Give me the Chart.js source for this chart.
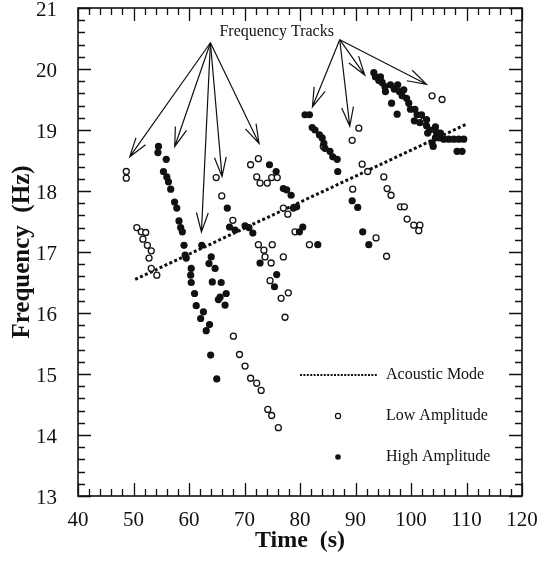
<!DOCTYPE html>
<html>
<head>
<meta charset="utf-8">
<script src="https://cdn.jsdelivr.net/npm/chart.js@4/dist/chart.umd.min.js"></script>
<style>
  html, body { margin: 0; padding: 0; background: #fff; }
  #wrap { width: 543px; height: 564px; }
</style>
</head>
<body>
<div id="wrap"><canvas id="c" width="543" height="564"></canvas></div>
<script>
// Axis ticks
const timeTicks = [40, 50, 60, 70, 80, 90, 100, 110, 120];
const freqTicks = [13, 14, 15, 16, 17, 18, 19, 20, 21];

// Acoustic mode (dotted line), [time s, frequency Hz]
const acousticMode = [[50.3, 16.55], [110.1, 19.10]];

// Low amplitude returns (open circles), [time s, frequency Hz]
const lowAmplitude = [
  [48.7, 18.32], [48.7, 18.21],
  [50.6, 17.40], [51.4, 17.33], [52.2, 17.32], [51.7, 17.21], [52.5, 17.11],
  [53.2, 17.02], [52.8, 16.90], [53.2, 16.73], [54.2, 16.62],
  [64.9, 18.22], [65.9, 17.92], [67.9, 17.52],
  [68.0, 15.62], [69.1, 15.32], [70.1, 15.13], [71.1, 14.93], [72.2, 14.85],
  [73.0, 14.73], [74.2, 14.42], [74.9, 14.32], [76.1, 14.12],
  [71.1, 18.43], [72.5, 18.53], [72.2, 18.23], [72.8, 18.13], [74.1, 18.13],
  [74.9, 18.22], [75.9, 18.22],
  [77.0, 17.72], [77.8, 17.62], [79.1, 17.33], [81.7, 17.12], [72.5, 17.12],
  [75.0, 17.12], [73.5, 17.03], [73.7, 16.92], [74.8, 16.82], [77.0, 16.92],
  [74.6, 16.53], [77.9, 16.33], [76.6, 16.24], [77.3, 15.93],
  [84.2, 18.73], [89.4, 18.83], [90.6, 19.03], [91.2, 18.44], [92.2, 18.32],
  [89.5, 18.03], [95.1, 18.23], [95.7, 18.04], [96.4, 17.93], [98.1, 17.74],
  [98.8, 17.74], [99.3, 17.54], [100.5, 17.44], [101.6, 17.44], [101.4, 17.35],
  [93.7, 17.23], [95.6, 16.93],
  [102.3, 19.15], [103.8, 19.56], [105.6, 19.50]
];

// High amplitude returns (filled circles), [time s, frequency Hz]
const highAmplitude = [
  [54.5, 18.73], [54.4, 18.63], [55.9, 18.52], [55.4, 18.32], [56.0, 18.23],
  [56.3, 18.15], [56.7, 18.03], [57.4, 17.82], [57.8, 17.72], [58.2, 17.51],
  [58.5, 17.40], [58.8, 17.33], [59.1, 17.11], [59.3, 16.95], [59.5, 16.90],
  [60.4, 16.73], [60.3, 16.62], [60.4, 16.50], [61.0, 16.32], [61.3, 16.12],
  [62.6, 16.02], [62.1, 15.91], [63.7, 15.81], [63.1, 15.71], [63.9, 15.31],
  [65.0, 14.92],
  [62.3, 17.11], [64.0, 16.92], [63.6, 16.81], [64.7, 16.73], [64.2, 16.51],
  [65.8, 16.50], [66.7, 16.32], [65.6, 16.26], [65.3, 16.22], [66.5, 16.13],
  [66.9, 17.72], [67.3, 17.41], [68.3, 17.36], [70.1, 17.43], [70.8, 17.40],
  [71.5, 17.31],
  [74.5, 18.43], [75.7, 18.32], [77.0, 18.04], [77.6, 18.02], [78.4, 17.93],
  [79.4, 17.74], [78.8, 17.72], [79.9, 17.33], [80.5, 17.41], [83.2, 17.12],
  [72.8, 16.82], [75.8, 16.63], [75.4, 16.43],
  [80.9, 19.25], [81.7, 19.25], [82.2, 19.04], [82.7, 19.00], [83.5, 18.92],
  [84.0, 18.87], [84.3, 18.78], [84.5, 18.70], [85.4, 18.65], [85.9, 18.56],
  [86.7, 18.52], [86.8, 18.32], [89.4, 17.84], [90.4, 17.73], [91.3, 17.33],
  [92.4, 17.12],
  [93.3, 19.94], [93.6, 19.87], [94.5, 19.87], [94.2, 19.81], [94.8, 19.78],
  [95.3, 19.71], [95.4, 19.63], [96.3, 19.74], [97.0, 19.67], [97.6, 19.74],
  [97.9, 19.63], [98.4, 19.56], [98.7, 19.66], [99.2, 19.52], [99.6, 19.44],
  [99.9, 19.34], [100.7, 19.34], [101.1, 19.25], [101.9, 19.25], [100.6, 19.15],
  [101.6, 19.12], [102.8, 19.17], [102.8, 19.07], [103.4, 19.00], [104.4, 19.05],
  [104.6, 18.96], [103.0, 18.95], [105.3, 18.95], [104.4, 18.87], [105.2, 18.87],
  [105.9, 18.85], [106.8, 18.85], [107.7, 18.85], [108.6, 18.85], [109.5, 18.85],
  [108.3, 18.65], [109.2, 18.65], [104.0, 18.73], [103.8, 18.79], [96.5, 19.44],
  [97.5, 19.26]
];

// "Frequency Tracks" callout: label anchor and arrows, in axis units
const calloutLabel = { text: 'Frequency Tracks', at: [75.8, 20.61] };
const calloutArrows = [
  { from: [63.86, 20.43], to: [49.32, 18.56] },
  { from: [63.86, 20.43], to: [57.43, 18.73] },
  { from: [63.86, 20.43], to: [62.24, 17.33] },
  { from: [63.86, 20.43], to: [65.95, 18.24] },
  { from: [63.86, 20.43], to: [72.62, 18.78] },
  { from: [87.16, 20.48], to: [82.24, 19.38] },
  { from: [87.16, 20.48], to: [88.97, 19.06] },
  { from: [87.16, 20.48], to: [91.67, 19.90] },
  { from: [87.16, 20.48], to: [102.79, 19.75] }
];

const legendLabels = ['Acoustic Mode', 'Low Amplitude', 'High Amplitude'];

const INK = '#111';
const SERIF = '"Liberation Serif", "DejaVu Serif", "Times New Roman", serif';
const toPoints = arr => arr.map(([x, y]) => ({ x, y }));

// Frame, inward tick marks, callout arrows and legend
const framePlugin = {
  id: 'frameAndNotes',
  afterDatasetsDraw(chart) {
    const { ctx, chartArea: a, scales: { x, y } } = chart;
    ctx.save();
    ctx.strokeStyle = INK;
    ctx.fillStyle = INK;

    // plot frame
    ctx.lineWidth = 1.6;
    ctx.strokeRect(a.left, a.top, a.right - a.left, a.bottom - a.top);

    // tick marks on all four sides, pointing inward
    ctx.lineWidth = 1.3;
    ctx.beginPath();
    for (let i = 0; i <= 40; i++) {
      const v = x.min + i * 2;
      const px = Math.round(x.getPixelForValue(v)) + 0.5;
      const len = (i % 5 === 0) ? 13 : 7;
      ctx.moveTo(px, a.bottom); ctx.lineTo(px, a.bottom - len);
      ctx.moveTo(px, a.top); ctx.lineTo(px, a.top + len);
    }
    for (let i = 0; i <= 40; i++) {
      const v = y.min + i * 0.2;
      const py = Math.round(y.getPixelForValue(v)) + 0.5;
      const len = (i % 5 === 0) ? 13 : 7;
      ctx.moveTo(a.left, py); ctx.lineTo(a.left + len, py);
      ctx.moveTo(a.right, py); ctx.lineTo(a.right - len, py);
    }
    ctx.stroke();

    // callout arrows
    ctx.lineWidth = 1.2;
    const headLen = 20, headAngle = 0.3;
    calloutArrows.forEach(({ from, to }) => {
      const x0 = x.getPixelForValue(from[0]), y0 = y.getPixelForValue(from[1]);
      const x1 = x.getPixelForValue(to[0]), y1 = y.getPixelForValue(to[1]);
      const ang = Math.atan2(y1 - y0, x1 - x0);
      ctx.beginPath();
      ctx.moveTo(x0, y0); ctx.lineTo(x1, y1);
      ctx.moveTo(x1 - headLen * Math.cos(ang - headAngle), y1 - headLen * Math.sin(ang - headAngle));
      ctx.lineTo(x1, y1);
      ctx.lineTo(x1 - headLen * Math.cos(ang + headAngle), y1 - headLen * Math.sin(ang + headAngle));
      ctx.stroke();
    });
    ctx.font = '16px ' + SERIF;
    ctx.textAlign = 'center';
    ctx.textBaseline = 'middle';
    ctx.fillText(calloutLabel.text,
      x.getPixelForValue(calloutLabel.at[0]), y.getPixelForValue(calloutLabel.at[1]));

    // legend, inside the lower right of the plot
    const lx0 = a.left + 222, lx1 = a.left + 299, mx = a.left + 260, tx = a.left + 308;
    const rows = [a.bottom - 121, a.bottom - 80, a.bottom - 39];
    ctx.lineWidth = 2;
    ctx.setLineDash([2, 1.4]);
    ctx.beginPath(); ctx.moveTo(lx0, rows[0]); ctx.lineTo(lx1, rows[0]); ctx.stroke();
    ctx.setLineDash([]);
    ctx.lineWidth = 1.2;
    ctx.beginPath(); ctx.arc(mx, rows[1], 2.6, 0, Math.PI * 2);
    ctx.fillStyle = '#fff'; ctx.fill(); ctx.stroke();
    ctx.fillStyle = INK;
    ctx.beginPath(); ctx.arc(mx, rows[2], 2.8, 0, Math.PI * 2); ctx.fill();
    ctx.textAlign = 'left';
    legendLabels.forEach((t, i) => ctx.fillText(t, tx, rows[i]));
    ctx.restore();
  }
};

new Chart(document.getElementById('c'), {
  type: 'scatter',
  data: {
    datasets: [
      {
        label: legendLabels[0],
        data: toPoints(acousticMode),
        showLine: true,
        borderColor: INK,
        borderWidth: 3,
        borderDash: [3, 2.4],
        borderCapStyle: 'butt',
        pointRadius: 0,
        fill: false,
        order: 3
      },
      {
        label: legendLabels[1],
        data: toPoints(lowAmplitude),
        pointRadius: 3,
        pointBorderWidth: 1.3,
        pointBackgroundColor: '#fff',
        pointBorderColor: INK,
        order: 2
      },
      {
        label: legendLabels[2],
        data: toPoints(highAmplitude),
        pointRadius: 3.6,
        pointBorderWidth: 0,
        pointBackgroundColor: INK,
        pointBorderColor: INK,
        order: 1
      }
    ]
  },
  options: {
    responsive: false,
    animation: false,
    events: [],
    layout: { padding: { left: 0, top: 8, right: 21, bottom: 3 } },
    plugins: { legend: { display: false }, tooltip: { enabled: false } },
    scales: {
      x: {
        type: 'linear',
        min: timeTicks[0],
        max: timeTicks[timeTicks.length - 1],
        afterBuildTicks: s => { s.ticks = timeTicks.map(v => ({ value: v })); },
        grid: { display: false },
        border: { display: false },
        ticks: { font: { family: SERIF, size: 21 }, color: INK, padding: 4, maxRotation: 0, autoSkip: false },
        title: { display: true, text: 'Time  (s)', color: INK,
                 font: { family: SERIF, size: 24, weight: 'bold' }, padding: { top: 0, bottom: 6 } },
        afterFit: s => { s.height = 65; s.paddingLeft = 0; s.paddingRight = 0; }
      },
      y: {
        type: 'linear',
        min: freqTicks[0],
        max: freqTicks[freqTicks.length - 1],
        afterBuildTicks: s => { s.ticks = freqTicks.map(v => ({ value: v })); },
        grid: { display: false },
        border: { display: false },
        ticks: { font: { family: SERIF, size: 21 }, color: INK, padding: 13, labelOffset: 2, autoSkip: false },
        title: { display: true, text: 'Frequency  (Hz)', color: INK,
                 font: { family: SERIF, size: 25, weight: 'bold' }, padding: { top: 8, bottom: 0 } },
        afterFit: s => { s.width = 78; s.paddingTop = 0; s.paddingBottom = 0; }
      }
    }
  },
  plugins: [framePlugin]
});
</script>
</body>
</html>
